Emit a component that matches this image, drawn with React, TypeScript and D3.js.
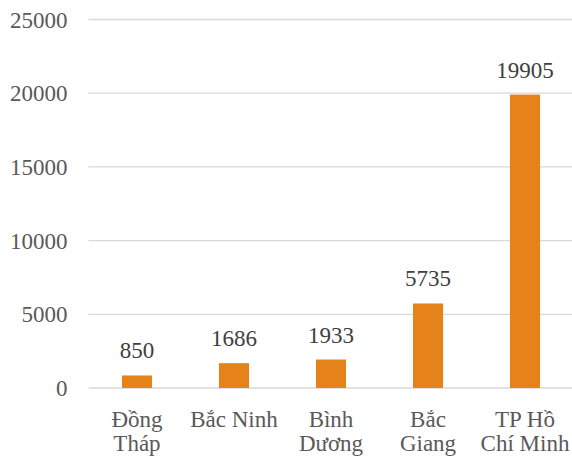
import * as d3 from "d3";

const categories = ["Đồng Tháp", "Bắc Ninh", "Bình Dương", "Bắc Giang", "TP Hồ Chí Minh"];
const categoryLines = [["Đồng", "Tháp"], ["Bắc Ninh"], ["Bình", "Dương"], ["Bắc", "Giang"], ["TP Hồ", "Chí Minh"]];
const values = [850, 1686, 1933, 5735, 19905];
const yTicks = [0, 5000, 10000, 15000, 20000, 25000];

const width = 572;
const height = 459;
const margin = { top: 19.5, right: -1.5, bottom: 71, left: 88.5 };
const innerWidth = width - margin.left - margin.right;
const innerHeight = height - margin.top - margin.bottom;
const font = "Liberation Serif";

export default function App() {
  const x = d3.scaleBand<string>().domain(categories).range([0, innerWidth]).paddingInner(0.69).paddingOuter(0.345);
  const y = d3.scaleLinear().domain([0, 25000]).range([innerHeight, 0]);
  const cx = (c: string) => x(c)! + x.bandwidth() / 2;

  return (
    <svg
      width={width}
      height={height}
      style={{ position: "absolute", left: 0, top: 0, background: "#fff" }}
      fontFamily={font}
      fontSize={23}
    >
      <g transform={`translate(${margin.left},${margin.top})`}>
        {yTicks.map((t) => (
          <line key={`g${t}`} x1={0} x2={innerWidth} y1={y(t)} y2={y(t)} stroke="#d9d9d9" strokeWidth={1.3} />
        ))}
        {yTicks.map((t) => (
          <text key={`t${t}`} x={-21} y={y(t)} dy="0.35em" textAnchor="end" fill="#595959">
            {t}
          </text>
        ))}
        {values.map((v, i) => (
          <rect key={`b${i}`} x={x(categories[i])} width={x.bandwidth()} y={y(v)} height={innerHeight - y(v)} fill="#e6821a" />
        ))}
        {values.map((v, i) => (
          <text key={`v${i}`} x={cx(categories[i])} y={y(v) - 17} textAnchor="middle" fill="#404040">
            {v}
          </text>
        ))}
        {categories.map((c, i) => (
          <text key={`c${i}`} y={innerHeight + 39} textAnchor="middle" fill="#595959">
            {categoryLines[i].map((line, j) => (
              <tspan key={j} x={cx(c)} dy={j === 0 ? 0 : 24}>
                {line}
              </tspan>
            ))}
          </text>
        ))}
      </g>
    </svg>
  );
}
